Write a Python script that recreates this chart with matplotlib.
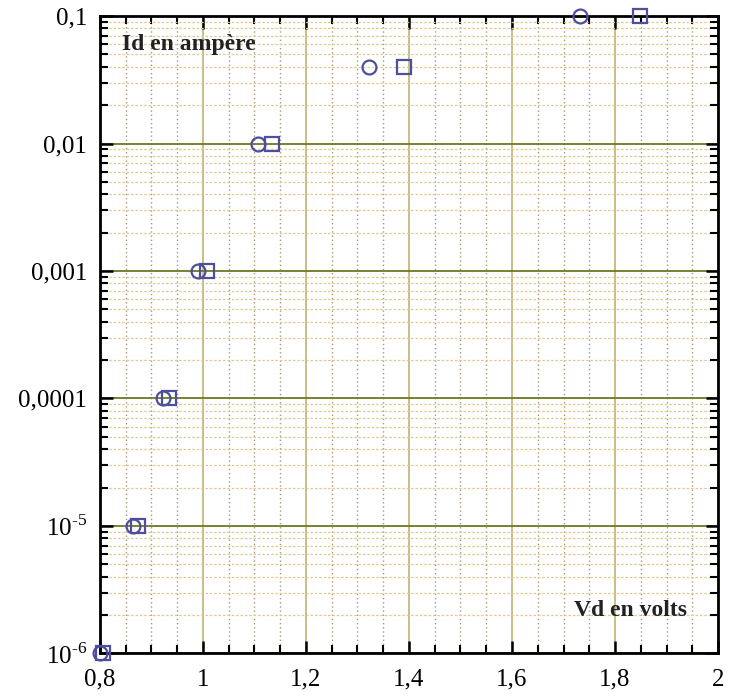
import matplotlib
matplotlib.use("Agg")
import matplotlib.pyplot as plt
from matplotlib.ticker import FixedLocator, MultipleLocator, LogLocator, NullFormatter

plt.rcParams['font.family'] = ['Liberation Serif', 'DejaVu Serif']
plt.rcParams['mathtext.fontset'] = 'custom'
plt.rcParams['mathtext.rm'] = 'Liberation Serif'

# current values (A) and the two series of diode voltages (V)
id_vals = [1e-6, 1e-5, 1e-4, 1e-3, 1e-2, 0.04, 0.1]
vd_circle = [0.800, 0.864, 0.922, 0.990, 1.107, 1.322, 1.732]
vd_square = [0.806, 0.874, 0.934, 1.008, 1.135, 1.390, 1.849]

x_ticks = [0.8, 1.0, 1.2, 1.4, 1.6, 1.8, 2.0]
x_labels = ['0,8', '1', '1,2', '1,4', '1,6', '1,8', '2']
y_ticks = [1e-6, 1e-5, 1e-4, 1e-3, 1e-2, 0.1]
y_labels = [r'$10^{\text{-}6}$', r'$10^{\text{-}5}$', '0,0001', '0,001', '0,01', '0,1']

fig = plt.figure(figsize=(7.29, 6.98), dpi=100)
ax = fig.add_axes([0.137, 0.064, 0.848, 0.913])

ax.set_yscale('log')
ax.set_xlim(0.8, 2.0)
ax.set_ylim(1e-6, 0.1)

ax.xaxis.set_major_locator(FixedLocator(x_ticks))
ax.xaxis.set_minor_locator(MultipleLocator(0.05))
ax.set_xticklabels(x_labels)
ax.yaxis.set_major_locator(FixedLocator(y_ticks))
ax.yaxis.set_minor_locator(LogLocator(base=10, subs=range(2, 10), numticks=20))
ax.yaxis.set_minor_formatter(NullFormatter())
ax.set_yticklabels(y_labels)

ax.grid(True, which='major', axis='y', color='#6b7a22', lw=1.3, ls='-')
ax.grid(True, which='minor', axis='y', color='#e2c88c', lw=0.9, ls=(0, (2, 1.5)))
ax.grid(True, which='major', axis='x', color='#b8ad62', lw=1.1, ls='-')
ax.grid(True, which='minor', axis='x', color='#a8987e', lw=1.0, ls=(0, (1, 2)))
ax.set_axisbelow(True)

ax.tick_params(which='both', direction='in', top=True, right=True, color='black')
ax.tick_params(which='major', length=9, width=1.8, labelsize=18, pad=9)
ax.tick_params(axis='x', which='major', pad=11)
ax.tick_params(which='minor', length=6, width=1.5)
for s in ax.spines.values():
    s.set_linewidth(2)

ax.plot(vd_circle, id_vals, 'o', ms=10, mfc='none', mec='#4e4e9e', mew=1.6, clip_on=False, zorder=5)
ax.plot(vd_square, id_vals, 's', ms=10, mfc='none', mec='#4e4e9e', mew=1.6, clip_on=False, zorder=5)

ax.text(0.036, 0.955, 'Id en ampère', transform=ax.transAxes, fontsize=17,
        fontweight='bold', color='#222222', ha='left', va='center')
ax.text(0.858, 0.0675, 'Vd en volts', transform=ax.transAxes, fontsize=17,
        fontweight='bold', color='#222222', ha='center', va='center')

fig.savefig('out.png', dpi=100)
